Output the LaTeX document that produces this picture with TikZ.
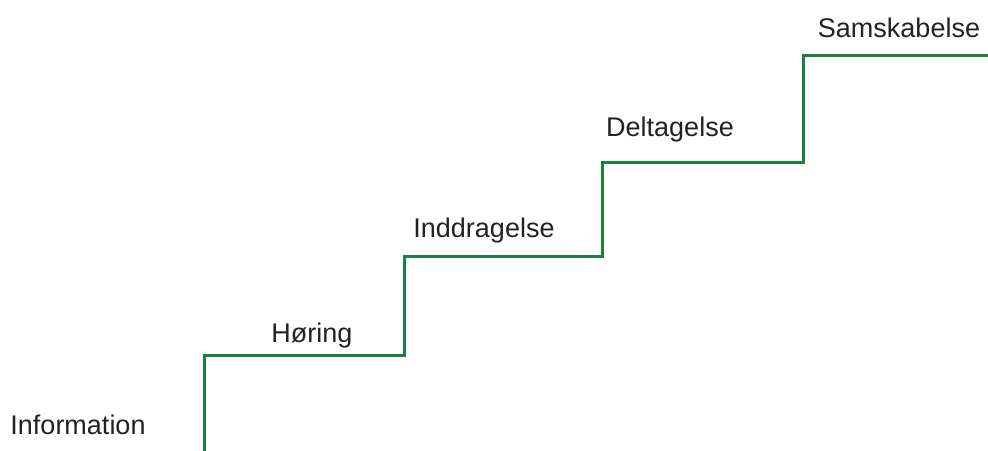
\documentclass[tikz,border=0pt]{standalone}
\usepackage{fontspec}
\setmainfont{Liberation Sans}
\definecolor{stepgreen}{HTML}{1B8040}
\definecolor{labelgray}{HTML}{222222}
\begin{document}
\begin{tikzpicture}[x=1pt,y=-1pt,
  stair/.style={draw=stepgreen,line width=3pt,line join=miter},
  lbl/.style={anchor=base,inner sep=0pt,text=labelgray,font=\fontsize{27}{32}\selectfont}]
\useasboundingbox (0,0) rectangle (988,450);
\coordinate (s0) at (204,452);
\coordinate (s1) at (204,355);
\coordinate (s2) at (404,355);
\coordinate (s3) at (404,256);
\coordinate (s4) at (602,256);
\coordinate (s5) at (602,162);
\coordinate (s6) at (803,162);
\coordinate (s7) at (803,55);
\coordinate (s8) at (990,55);
\draw[stair] (s0) -- (s1) -- (s2) -- (s3) -- (s4) -- (s5) -- (s6) -- (s7) -- (s8);
\node[lbl] (info) at (78,434) {Information};
\node[lbl] (hor) at (312,342) {Høring};
\node[lbl] (indd) at (484,237) {Inddragelse};
\node[lbl] (delt) at (670,136) {Deltagelse};
\node[lbl] (sams) at (899,37) {Samskabelse};
\end{tikzpicture}
\end{document}
